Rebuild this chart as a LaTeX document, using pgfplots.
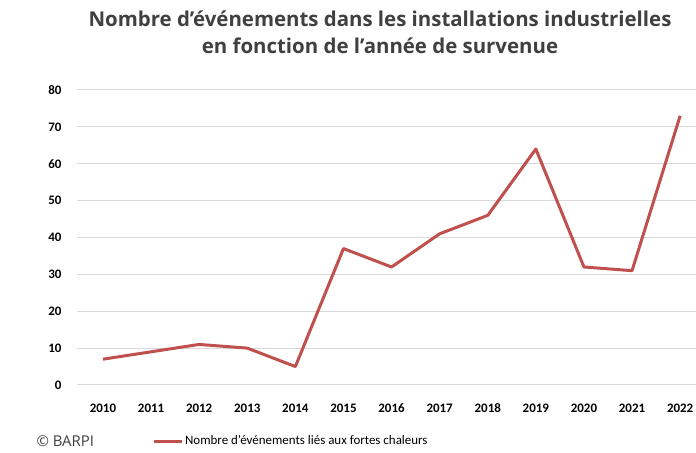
\documentclass[border=0pt]{standalone}
\usepackage{fontspec}
\setmainfont{Carlito}
\newfontfamily\titlefont{Open Sans}
\usepackage{pgfplots}
\pgfplotsset{compat=1.18}
\definecolor{linered}{HTML}{C0504D}
\definecolor{gridgrey}{HTML}{D9D9D9}
\definecolor{titlegrey}{HTML}{404040}
\begin{document}
\begin{tikzpicture}[x=1bp,y=1bp]
\useasboundingbox (0,0) rectangle (696,453);
\begin{axis}[
  at={(77bp,68bp)}, anchor=south west,
  scale only axis, width=619bp, height=295bp,
  xmin=-0.54, xmax=12.33, ymin=0, ymax=80,
  axis line style={draw=none},
  xtick={0,...,12},
  xticklabels={2010,2011,2012,2013,2014,2015,2016,2017,2018,2019,2020,2021,2022},
  ytick={0,10,...,80},
  /pgf/number format/assume math mode=true,
  ymajorgrids, grid style={gridgrey, line width=1bp},
  major tick length=0pt,
  tick label style={font=\fontsize{13}{15}\selectfont\bfseries, text=black},
  xticklabel style={yshift=-15bp},
  yticklabel style={xshift=-12bp},
  clip=false,
  legend style={draw=none, fill=none, at={(0.121,-0.19)}, anchor=west,
    font=\fontsize{13}{15}\selectfont, inner sep=0pt, column sep=0pt},
  legend cell align=left,
  legend image code/.code={\draw[linered, line width=3bp] (0bp,0bp) -- (28bp,0bp);},
]
\addplot[linered, line width=3bp, line join=round] coordinates {
(0,7) (1,9) (2,11) (3,10) (4,5) (5,37) (6,32) (7,41) (8,46) (9,64) (10,32) (11,31) (12,73)};
\addlegendentry{Nombre d'événements liés aux fortes chaleurs}
\end{axis}
\node[font=\titlefont\fontsize{20.5}{27}\selectfont\bfseries, text=titlegrey, align=center] at (380,421)
  {Nombre d’événements dans les installations industrielles\\en fonction de l’année de survenue};
\node[font=\titlefont\fontsize{15}{18}\selectfont, text=titlegrey, anchor=west] at (33,12) {© BARPI};
\end{tikzpicture}
\end{document}
